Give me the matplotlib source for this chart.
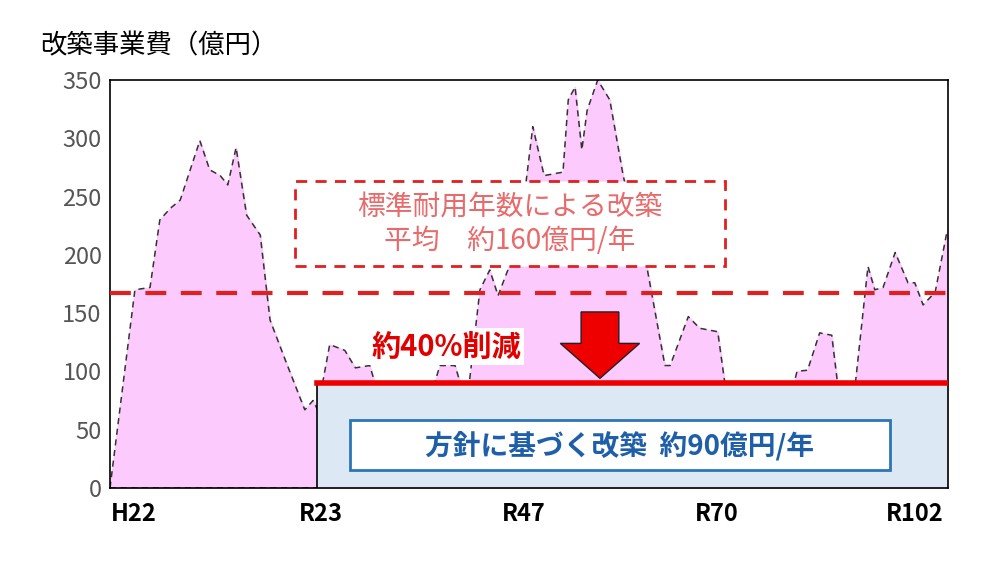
import matplotlib
matplotlib.use("Agg")
import matplotlib.pyplot as plt
from matplotlib.patches import Rectangle, FancyArrow

plt.rcParams['font.family'] = ['Noto Sans CJK JP', 'DejaVu Sans']

# Yearly renovation cost (x in chart years from H22, y in 億円)
years = [0, 3.3, 5.3, 6.6, 8, 9.3, 11.9, 13.2, 14.6, 15.6, 16.7, 18.1, 19.9, 21.2, 23.2,
         25.8, 26.9, 27.5, 29.1, 31.1, 32.5, 34.4, 35.1, 38, 43, 43.7, 45.7, 46.4, 47.5,
         49, 50.3, 51.4, 52.7, 54.5, 56, 57.5, 60, 60.7, 61.6, 62.5, 63.2, 64.6, 66.2, 68,
         71.1, 73.5, 74.2, 76.6, 78.1, 80.5, 81.5, 86, 90.5, 91, 92.4, 94, 95.6, 96.4,
         98.7, 100.4, 101.3, 102.4, 104, 105.7, 106.6, 107.7, 109.3, 110.9]
costs = [0, 170, 172, 230, 240, 247, 298, 273, 268, 260, 292, 234, 217, 144, 110,
         67, 75, 67, 123, 118, 103, 105, 90, 70, 90, 105, 105, 90, 85,
         170, 187, 165, 187, 230, 310, 268, 271, 333, 344, 290, 324, 350, 333, 267,
         190, 105, 105, 147, 137, 134, 87, 70, 87, 100, 101, 133, 131, 88,
         88, 190, 170, 172, 202, 176, 176, 157, 168, 221]

tick_pos = [3.2, 28, 54.8, 80.4, 106.6]
tick_labels = ["H22", "R23", "R47", "R70", "R102"]
avg_standard = 167
avg_policy = 90
policy_start = 27.4

fig = plt.figure(figsize=(10, 5.76), dpi=100)
ax = fig.add_axes([0.11, 0.153, 0.838, 0.708])
ax.set_xlim(0, 111)
ax.set_ylim(0, 350)

ax.fill_between(years, costs, color="#fccafc", zorder=1)
ax.plot(years, costs, color="#333333", lw=1.1, ls=(0, (4, 3)), zorder=2)
ax.plot([0, policy_start], [0, 0], color="#333333", lw=1.1, ls=(0, (4, 3)), zorder=2)

# policy block
ax.add_patch(Rectangle((policy_start, 0), 111 - policy_start, avg_policy,
                       facecolor="#dce9f5", edgecolor="black", lw=1.2, zorder=3))
ax.plot([policy_start, 111], [avg_policy, avg_policy], color="#ee0000", lw=4, zorder=4)
ax.axhline(avg_standard, color="#e02020", lw=3, ls=(0, (5, 3.5)), zorder=4)

ax.add_patch(Rectangle((31.8, 15), 71.5, 43, facecolor="white", edgecolor="#2e75b6",
                       lw=2, zorder=5))
ax.text(67.5, 36.5, "方針に基づく改築  約90億円/年", ha="center", va="center", fontsize=20,
        color="#1f5fa8", fontweight="bold", zorder=6)

ax.add_patch(Rectangle((24.5, 190), 57, 73, facecolor="white", edgecolor="#e02020",
                       lw=2, ls=(0, (4, 3)), zorder=5))
ax.text(53, 226.5, "標準耐用年数による改築\n平均　約160億円/年", ha="center", va="center",
        fontsize=20, color="#e86a6a", linespacing=1.2, zorder=6)

ax.text(44.5, 121, "約40%削減", ha="center", va="center", fontsize=21, color="#e00000",
        fontweight="bold", zorder=6,
        bbox=dict(boxstyle="square,pad=0.12", fc="white", ec="none"))
ax.add_patch(FancyArrow(64.9, 151, 0, -57, width=5, head_width=10.5, head_length=30,
                        length_includes_head=True, fc="#ee0000", ec="#222222", lw=1, zorder=6))

ax.set_yticks(range(0, 351, 50))
ax.tick_params(axis="y", length=0, labelsize=17, labelcolor="#555555", pad=6)
ax.set_xticks(tick_pos)
ax.set_xticklabels(tick_labels, fontsize=17, fontweight="bold")
ax.tick_params(axis="x", length=0, pad=10)
for s in ax.spines.values():
    s.set_linewidth(1.2)

fig.text(0.04, 0.92, "改築事業費（億円）", fontsize=19, va="center")
fig.savefig("out.png", dpi=100)
